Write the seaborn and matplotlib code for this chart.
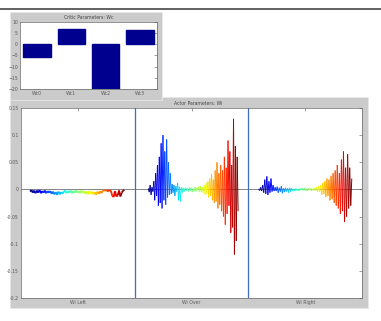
import numpy as np
import pandas as pd
import matplotlib
matplotlib.use("Agg")
import matplotlib.pyplot as plt
from matplotlib.collections import LineCollection
from matplotlib.patches import Rectangle
import seaborn as sns

sns.set_style("white")
plt.rcParams['font.family'] = ['DejaVu Sans']

# ---- data ----
critic_labels = ["Wc0", "Wc1", "Wc2", "Wc3"]
critic_values = [-5.8, 6.8, -20.0, 6.4]

actor_labels = ["Wi Left", "Wi Over", "Wi Right"]

wi_left = [-0.004, -0.001, -0.006, -0.002, -0.007, -0.002, -0.006, -0.001, -0.007, -0.003,
           -0.006, -0.002, -0.007, -0.003, -0.006,
           -0.003, -0.008, -0.004, -0.009, -0.005, -0.010, -0.004, -0.009, -0.005, -0.008,
           -0.004, -0.002, -0.007, -0.003, -0.006, -0.002, -0.007, -0.003, -0.006, -0.002,
           -0.006, -0.003, -0.007, -0.002, -0.006,
           -0.003, -0.008, -0.004, -0.009, -0.003, -0.008, -0.004, -0.009, -0.005, -0.010,
           -0.004, -0.008, -0.003, -0.007, -0.002,
           -0.001, -0.003, -0.001, -0.004, -0.001, -0.003, -0.012, -0.014, -0.003, -0.013,
           -0.011, -0.002, -0.013, -0.006, -0.002, -0.001]

wi_over = [0.002, -0.005, 0.008, -0.010, 0.004, -0.004, 0.015, -0.020, 0.030, -0.012,
           0.045, -0.030, 0.060, -0.025, 0.085, -0.035, 0.100, -0.020, 0.070, -0.028,
           0.092, -0.015, 0.050, -0.010, 0.030, -0.008,
           0.010, -0.006, 0.008, -0.012, 0.006, -0.004, 0.012, -0.020, 0.005, -0.022,
           0.004, -0.006, 0.003, -0.004, 0.002,
           0.003, -0.003, 0.002, -0.004, 0.004, -0.002, 0.003, -0.005, 0.002, -0.003,
           0.004, -0.004, 0.003, -0.002, 0.005, -0.004, 0.006, -0.005, 0.004, -0.006,
           0.008, -0.010, 0.012, -0.008, 0.015, -0.015, 0.020, -0.012, 0.028, -0.020,
           0.018, -0.025, 0.035, -0.022, 0.050, -0.035, 0.030, -0.028,
           0.045, -0.040, 0.035, -0.050, 0.060, -0.065, 0.040, -0.045, 0.090, -0.030,
           0.070, -0.080, 0.045, -0.070, 0.130, -0.120, 0.080, -0.095, 0.060, -0.040]

wi_right = [0.001, -0.002, 0.004, -0.003, 0.008, -0.006, 0.018, -0.008, 0.024, -0.010,
            0.015, -0.006, 0.020, -0.004, 0.008, -0.003,
            0.004, -0.003, 0.005, -0.006, 0.003, -0.004, 0.006, -0.007, 0.002, -0.005,
            0.003, -0.004, 0.002, -0.006, 0.003, -0.004, 0.002, -0.003, 0.001, -0.003,
            0.002, -0.002, 0.001, -0.003, 0.002, -0.001, 0.002, -0.002, 0.003, -0.002,
            0.001, -0.003, 0.002, -0.001, 0.002, -0.003, 0.001, -0.002, 0.003, -0.002,
            0.004, -0.005, 0.006, -0.004, 0.008, -0.010, 0.012, -0.008, 0.015, -0.014,
            0.020, -0.012, 0.018, -0.020, 0.025, -0.018, 0.030,
            -0.025, 0.035, -0.030, 0.045, -0.035, 0.030, -0.045, 0.055, -0.040, 0.070,
            -0.060, 0.040, -0.050, 0.065, -0.035, 0.040, -0.030, 0.020]

W, H = 381, 321
fig = plt.figure(figsize=(W / 100, H / 100), dpi=100)
fig.patch.set_facecolor("white")

def fr(x0, y0, x1, y1):
    return [x0 / W, 1 - y1 / H, (x1 - x0) / W, (y1 - y0) / H]

panel_col = "#cbcbcb"
fig.add_artist(plt.Line2D([0, 1], [1 - 9 / H, 1 - 9 / H], color="#555555", lw=1.3,
                          transform=fig.transFigure))
b = fr(10, 97, 368, 308)
fig.add_artist(Rectangle((b[0], b[1]), b[2], b[3], transform=fig.transFigure,
                         facecolor=panel_col, edgecolor="#e8e8e8", lw=0.6, zorder=0))
t = fr(10, 12, 162, 100)
fig.add_artist(Rectangle((t[0], t[1]), t[2], t[3], transform=fig.transFigure,
                         facecolor=panel_col, edgecolor="#e8e8e8", lw=0.6, zorder=0.5))

fs = 3.3
tick_col = "#5a5a5a"

def style(ax):
    ax.set_facecolor("white")
    for s in ax.spines.values():
        s.set_color("#666666")
        s.set_linewidth(0.5)
        s.set_visible(True)
    ax.tick_params(direction="in", length=2, width=0.4, colors=tick_col,
                   labelsize=fs, pad=1.5, top=True, right=True)

# ---- top: critic bars ----
ax1 = fig.add_axes(fr(20, 22, 157, 89))
ax1.set_zorder(2)
df = pd.DataFrame({"label": critic_labels, "value": critic_values})
sns.barplot(data=df, x="label", y="value", color="#00008f", saturation=1,
            width=0.8, ax=ax1, edgecolor="#00008f")
ax1.set_xlim(-0.5, 3.5)
ax1.set_ylim(-20, 10)
ax1.set_yticks([10, 5, 0, -5, -10, -15, -20])
ax1.set_xlabel("")
ax1.set_ylabel("")
style(ax1)
ax1.tick_params(top=False)
ax1.set_title("Critic Parameters: Wc", fontsize=fs, color="#444444", pad=2.5)

# ---- bottom: actor series ----
ax2 = fig.add_axes(fr(21, 108, 362, 298))
ax2.set_zorder(1)
cmap = matplotlib.colormaps["jet"]
series = [wi_left, wi_over, wi_right]
starts = [0.08, 0.12, 0.09]
ends = [0.91, 0.91, 0.91]
widths = [1.3, 0.7, 0.7]
for k, (vals, s0, s1, lw) in enumerate(zip(series, starts, ends, widths)):
    v = np.asarray(vals)
    n = len(v)
    x = k + s0 + (s1 - s0) * np.arange(n) / (n - 1)
    pts = np.column_stack([x, v]).reshape(-1, 1, 2)
    segs = np.concatenate([pts[:-1], pts[1:]], axis=1)
    lc = LineCollection(segs, colors=cmap(np.linspace(0, 1, n - 1)), linewidths=lw)
    ax2.add_collection(lc)
ax2.axhline(0, color="#555555", lw=0.5, zorder=0)
for xv in [1, 2]:
    ax2.axvline(xv, color="#3f6fbf", lw=0.9)
ax2.set_xlim(0, 3)
ax2.set_ylim(-0.2, 0.15)
ax2.set_yticks([0.15, 0.1, 0.05, 0, -0.05, -0.1, -0.15, -0.2])
ax2.set_yticklabels(["0.15", "0.1", "0.05", "0", "-0.05", "-0.1", "-0.15", "-0.2"])
ax2.set_xticks([0.5, 1.5, 2.5])
ax2.set_xticklabels(actor_labels)
style(ax2)
ax2.set_title("Actor Parameters: Wi", fontsize=fs, color="#444444", pad=2.5, x=0.52)

fig.savefig("out.png", dpi=100, facecolor="white")
